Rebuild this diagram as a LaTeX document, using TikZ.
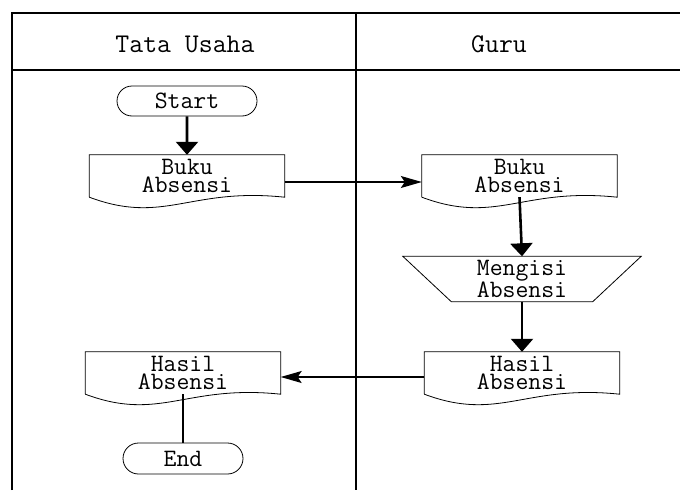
\documentclass[tikz,border=0pt]{standalone}
\usepackage{fontspec}
\usepackage{tikz}
\usetikzlibrary{shapes.misc, arrows.meta, positioning, calc}
\newcommand{\lbl}{\ttfamily\addfontfeature{LetterSpace=10,FakeBold=0.8}}
\tikzstyle{terminal} = [rounded rectangle, draw, line width=0.8pt, minimum height=30pt, inner sep=0pt, font=\fontsize{25}{17.5}\selectfont\lbl]
\tikzstyle{doc} = [rectangle, minimum width=195pt, minimum height=42pt, inner sep=0pt, align=center, font=\fontsize{25}{17.5}\selectfont\lbl,
    append after command={\pgfextra{\draw[line width=0.8pt] (\tikzlastnode.south west) -- (\tikzlastnode.north west) -- (\tikzlastnode.north east) -- (\tikzlastnode.south east) .. controls +(-95,-10) and +(75,28) .. (\tikzlastnode.south west);}}]
\tikzstyle{manual} = [rectangle, minimum width=141pt, minimum height=45pt, inner sep=0pt, align=center, font=\fontsize{25}{17.5}\selectfont\lbl,
    append after command={\pgfextra{\draw[line width=0.8pt] ([xshift=-48.5pt]\tikzlastnode.north west) -- ([xshift=48.5pt]\tikzlastnode.north east) -- (\tikzlastnode.south east) -- (\tikzlastnode.south west) -- cycle;}}]
\tikzstyle{lane} = [font=\fontsize{27}{30}\selectfont\lbl]
\tikzstyle{flow} = [line width=2.6pt, -{Triangle[length=13pt,width=22pt]}]
\tikzstyle{pass} = [line width=1.1pt, -{Stealth[length=21pt,width=12pt,inset=4pt]}]
\tikzstyle{stop} = [line width=2.4pt]

\begin{document}
\begin{tikzpicture}[x=1pt, y=-1pt]
    \useasboundingbox (0,0) rectangle (680,490);
    % swimlanes
    \draw[line width=1.5pt] (12,490) -- (12,13) -- (680,13);
    \draw[line width=1.5pt] (12,70) -- (680,70);
    \draw[line width=1.5pt] (356,13) -- (356,490);
    \node[lane] (tatausaha) at (185,44) {Tata Usaha};
    \node[lane] (guru) at (499,44) {Guru};

    % Tata Usaha
    \node[terminal, minimum width=140pt] (start) at (187,101) {Start};
    \node[doc] (bukutu) at (187,176) {Buku\\Absensi};
    \node[doc] (hasiltu) at (183,373) {Hasil\\Absensi};
    \node[terminal, minimum width=120pt, minimum height=31pt] (end) at (183,458.5) {End};

    % Guru
    \node[doc] (bukuguru) at (519.5,176) {Buku\\Absensi};
    \node[manual] (isi) at (522,279) {Mengisi\\Absensi};
    \node[doc] (hasilguru) at (522,373) {Hasil\\Absensi};

    \draw[flow] (start) -- (bukutu);
    \draw[pass] ([yshift=-6pt]bukutu.east) -- ([yshift=-6pt]bukuguru.west);
    \draw[flow] (bukuguru.south) -- (isi.north);
    \draw[flow] (isi.south) -- (hasilguru.north);
    \draw[pass] ([yshift=-4pt]hasilguru.west) -- ([yshift=-4pt]hasiltu.east);
    \draw[stop] (hasiltu.south) -- (end.north);
\end{tikzpicture}
\end{document}
